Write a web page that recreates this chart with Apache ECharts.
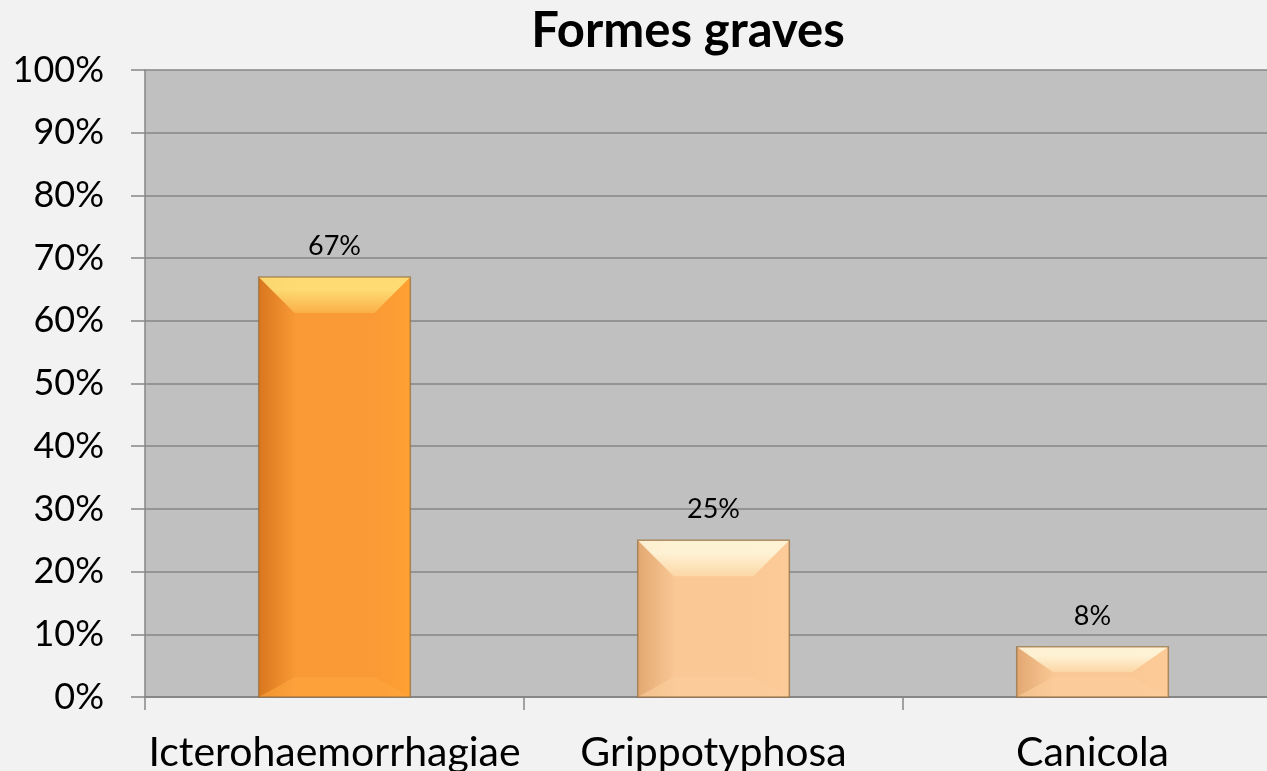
<!DOCTYPE html>
<html><head><meta charset="utf-8">
<script src="https://cdn.jsdelivr.net/npm/echarts@6/dist/echarts.min.js"></script>
<style>html,body{margin:0;padding:0;background:#f2f2f2;}#c{width:1267px;height:771px;}</style>
</head><body><div id="c"></div>
<script>
const categories = ['Icterohaemorrhagiae', 'Grippotyphosa', 'Canicola'];
const values = [67, 25, 8];
const yTicks = [0, 10, 20, 30, 40, 50, 60, 70, 80, 90, 100];
const title = 'Formes graves';

const palettes = [
  {main: '#f99a36', left: '#d8771e', right: '#ffa032', top: '#ffe27a', topDark: '#fbb24a', bottom: '#ffa640'},
  {main: '#f9c895', left: '#e3a872', right: '#fdcb98', top: '#fff7dc', topDark: '#fcd9a8', bottom: '#fccf9c'},
  {main: '#f9c895', left: '#e3a872', right: '#fdcb98', top: '#fff7dc', topDark: '#fcd9a8', bottom: '#fccf9c'}
];

const chart = echarts.init(document.getElementById('c'));
chart.setOption({
  backgroundColor: '#f2f2f2',
  animation: false,
  title: {text: title, left: 683, top: 2, textAlign: 'center',
    textStyle: {fontFamily: 'Lato', fontWeight: 'bold', fontSize: 49, color: '#000'}},
  grid: {left: 145, width: 1137, top: 70, bottom: 74, show: true, backgroundColor: '#c0c0c0', borderWidth: 0,
    containLabel: false, outerBoundsMode: 'none'},
  xAxis: {type: 'category', data: categories,
    axisLine: {lineStyle: {color: '#868686', width: 2}},
    axisTick: {show: true, length: 13, lineStyle: {color: '#868686', width: 1.5}},
    axisLabel: {fontFamily: 'Lato', fontSize: 41, color: '#000', margin: 35, interval: 0}},
  yAxis: {type: 'value', min: 0, max: 100, interval: 10,
    axisLine: {show: true, lineStyle: {color: '#868686', width: 1.5}},
    axisTick: {show: true, length: 14, lineStyle: {color: '#868686', width: 1.5}},
    splitLine: {lineStyle: {color: '#868686', width: 1.5}},
    axisLabel: {fontFamily: 'Lato', fontSize: 36, color: '#000', margin: 41,
      formatter: v => yTicks.includes(v) ? v + '%' : ''}},
  series: [{
    type: 'custom',
    data: values.map((v, i) => [i, v]),
    renderItem: function (params, api) {
      const i = api.value(0), v = api.value(1);
      const top = api.coord([i, v]);
      const base = api.coord([i, 0]);
      const w = api.size([1, 0])[0] * 0.4;
      const x0 = top[0] - w / 2, x1 = top[0] + w / 2;
      const y0 = top[1], y1 = base[1];
      const h = y1 - y0;
      const b = Math.min(36, h / 2);
      const bx = Math.min(36, w / 2);
      const p = palettes[i];
      const children = [
        {type: 'rect', shape: {x: x0, y: y0, width: w, height: h},
          style: {fill: new echarts.graphic.LinearGradient(0, 0, 1, 0, [
            {offset: 0, color: p.left}, {offset: 0.25, color: p.main}, {offset: 0.75, color: p.main}, {offset: 1, color: p.right}])}},
        {type: 'polygon', shape: {points: [[x0, y0], [x1, y0], [x1 - bx, y0 + b], [x0 + bx, y0 + b]]},
          style: {fill: new echarts.graphic.LinearGradient(0, 0, 0, 1, [
            {offset: 0, color: p.top}, {offset: 0.35, color: p.top}, {offset: 1, color: p.topDark}]), opacity: 0.9}},
        {type: 'polygon', shape: {points: [[x0, y1], [x1, y1], [x1 - bx, y1 - Math.min(b, 20)], [x0 + bx, y1 - Math.min(b, 20)]]},
          style: {fill: p.bottom, opacity: 0.6}},
        {type: 'rect', shape: {x: x0, y: y0, width: w, height: h},
          style: {fill: 'none', stroke: 'rgba(150,110,60,0.7)', lineWidth: 1.5}},
        {type: 'text', style: {text: v + '%', x: top[0], y: y0 - 17, textAlign: 'center', textVerticalAlign: 'bottom',
          fontFamily: 'Lato', fontSize: 27, fill: '#000'}}
      ];
      return {type: 'group', children: children};
    }
  }]
});
</script></body></html>
